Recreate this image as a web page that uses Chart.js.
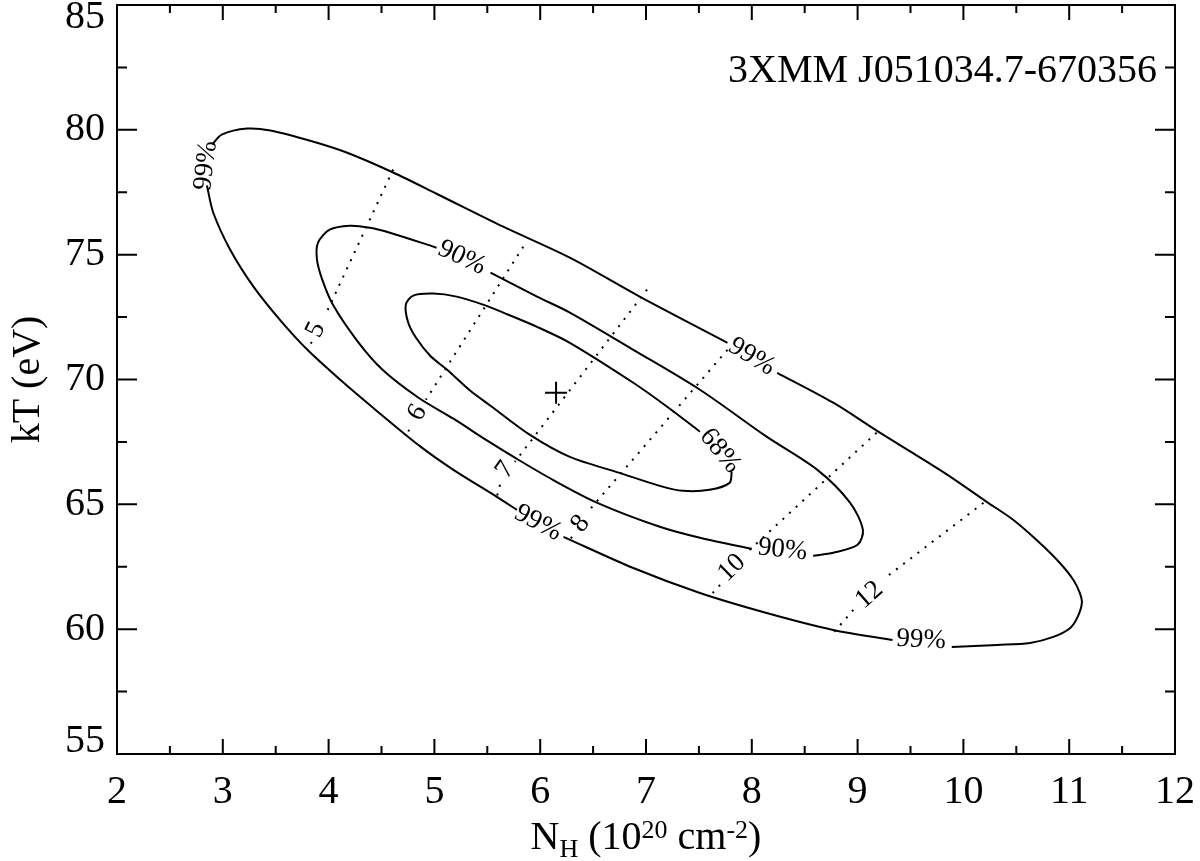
<!DOCTYPE html>
<html>
<head>
<meta charset="utf-8">
<script src="https://cdn.jsdelivr.net/npm/chart.js@4.4.1/dist/chart.umd.min.js"></script>
<style>
  html, body { margin: 0; padding: 0; background: #fff; }
  #wrap { width: 1200px; height: 861px; }
</style>
</head>
<body>
<div id="wrap"><canvas id="chart" width="1200" height="861"></canvas></div>
<script>
// Axis ticks
const xMajor = [2, 3, 4, 5, 6, 7, 8, 9, 10, 11, 12];
const xMinor = [2.5, 3.5, 4.5, 5.5, 6.5, 7.5, 8.5, 9.5, 10.5, 11.5];
const yMajor = [55, 60, 65, 70, 75, 80, 85];
const yMinor = [57.5, 62.5, 67.5, 72.5, 77.5, 82.5];

// Best fit (N_H, kT)
const bestFit = [[6.15, 69.47]];

// Confidence contours, split where the level labels sit
const c68 = [
  [[7.81, 66.30], [7.79, 65.86], [7.60, 65.58], [7.35, 65.54], [7.13, 65.74], [6.75, 66.26],
   [6.28, 66.90], [5.90, 67.79], [5.53, 68.95], [5.34, 69.55], [5.12, 70.39], [4.96, 70.95],
   [4.82, 71.71], [4.75, 72.31], [4.73, 73.00], [4.80, 73.36], [4.99, 73.44], [5.21, 73.32],
   [5.46, 73.00], [5.65, 72.68], [5.97, 72.11], [6.28, 71.47], [6.88, 69.87], [7.20, 68.91],
   [7.51, 67.91]]
];
const c90 = [
  [[5.53, 74.28], [5.97, 73.32], [6.28, 72.68], [6.88, 71.19], [7.51, 69.59], [8.14, 67.71],
   [8.62, 66.38], [8.93, 65.06], [9.05, 63.98], [9.00, 63.38], [8.77, 63.06], [8.58, 62.94]],
  [[8.00, 63.22], [7.51, 63.66], [7.13, 64.10], [6.54, 65.06], [6.12, 65.98], [5.78, 66.82],
   [5.50, 67.55], [5.18, 68.43], [4.85, 69.27], [4.51, 70.39], [4.27, 71.55], [4.04, 73.00],
   [3.94, 74.00], [3.89, 74.80], [3.90, 75.48], [4.01, 76.00], [4.20, 76.16], [4.39, 76.08],
   [4.58, 75.88], [5.02, 75.28]]
];
const c99 = [
  [[2.90, 79.41], [2.99, 79.81], [3.23, 80.05], [3.45, 79.97], [3.85, 79.53], [4.17, 79.09],
   [4.61, 78.29], [5.02, 77.44], [5.65, 76.12], [6.28, 74.88], [6.94, 73.32], [7.77, 71.47]],
  [[8.24, 70.27], [8.77, 69.07], [9.21, 67.87], [9.52, 67.06], [9.85, 66.18], [10.22, 65.10],
   [10.47, 64.38], [10.72, 63.46], [10.91, 62.66], [11.04, 61.97], [11.10, 61.45], [11.12, 61.05],
   [11.08, 60.49], [11.01, 60.05], [10.85, 59.69], [10.63, 59.45], [10.32, 59.37], [9.89, 59.29]],
  [[9.33, 59.57], [8.77, 59.97], [8.14, 60.65], [7.51, 61.45], [6.88, 62.45], [6.22, 63.70]],
  [[5.78, 64.78], [5.59, 65.30], [5.18, 66.38], [4.86, 67.34], [4.42, 68.87], [4.11, 69.99],
   [3.80, 71.19], [3.54, 72.39], [3.29, 73.72], [3.07, 75.20], [2.91, 76.68], [2.85, 77.77]]
];

// Dotted lines of constant value (5, 6, 7, 8, 10, 12)
const dotted = [
  [[4.61, 78.41], [3.98, 72.68]], [[3.84, 71.51], [3.81, 71.19]],
  [[5.84, 75.32], [4.92, 69.19]], [[4.76, 67.99], [4.74, 67.67]],
  [[7.01, 73.60], [5.76, 66.70]], [[5.62, 65.78], [5.59, 65.30]],
  [[7.77, 71.19], [6.45, 64.70]], [[6.30, 63.70], [6.26, 63.38]],
  [[9.18, 67.87], [7.95, 63.06]], [[7.70, 61.77], [7.63, 61.45]],
  [[10.19, 65.06], [9.26, 62.05]], [[8.96, 60.77], [8.77, 59.85]]
];

// Labels: text and anchor in data units
const levelLabels = [
  ['99%', 2.84, 78.57], ['90%', 5.26, 74.88], ['99%', 8.00, 70.91], ['68%', 7.70, 67.14],
  ['99%', 5.98, 64.26], ['90%', 8.29, 63.18], ['99%', 9.60, 59.57]
];
const levelAngles = [-83, 25, 31, 51, 28, 6, 3];
const dottedLabels = [
  ['5', 3.88, 71.99], ['6', 4.84, 68.67], ['7', 5.67, 66.38],
  ['8', 6.38, 64.22], ['10', 7.81, 62.45], ['12', 9.11, 61.37]
];
const dottedAngles = [-64, -59, -54, -51, -44, -41];

const sourceName = '3XMM J051034.7-670356';
const yTitle = 'kT (eV)';
const xTitleParts = [['N', 0], ['H', 1], [' (10', 0], ['20', 2], [' cm', 0], ['-2', 2], [')', 0]];

const FONT = '"Liberation Serif", "Times New Roman", serif';

const toPts = seg => seg.map(([x, y]) => ({ x, y }));
const datasets = [];
[c68, c90, c99].forEach(level => level.forEach(seg => datasets.push({
  data: toPts(seg), showLine: true, borderColor: '#000', borderWidth: 2,
  pointRadius: 0, tension: 0.3, fill: false
})));
dotted.forEach(seg => datasets.push({
  data: toPts(seg), showLine: true, borderColor: '#000', borderWidth: 2,
  borderDash: [2, 7], pointRadius: 0, tension: 0, fill: false
}));
datasets.push({
  data: toPts(bestFit), pointStyle: 'cross', pointRadius: 11,
  borderColor: '#000', borderWidth: 2, showLine: false
});

const decor = {
  id: 'decor',
  afterDatasetsDraw(chart) {
    const { ctx, chartArea: a, scales: { x, y } } = chart;
    ctx.save();
    ctx.strokeStyle = '#000';
    ctx.fillStyle = '#000';
    ctx.lineWidth = 2;
    ctx.strokeRect(a.left, a.top, a.right - a.left, a.bottom - a.top);

    // inward ticks on all four sides
    ctx.beginPath();
    const xt = (vals, len) => vals.forEach(v => {
      const px = x.getPixelForValue(v);
      ctx.moveTo(px, a.bottom); ctx.lineTo(px, a.bottom - len);
      ctx.moveTo(px, a.top); ctx.lineTo(px, a.top + len);
    });
    const yt = (vals, len) => vals.forEach(v => {
      const py = y.getPixelForValue(v);
      ctx.moveTo(a.left, py); ctx.lineTo(a.left + len, py);
      ctx.moveTo(a.right, py); ctx.lineTo(a.right - len, py);
    });
    xt(xMajor, 15); xt(xMinor, 8);
    yt(yMajor, 20); yt(yMinor, 10);
    ctx.stroke();

    // y tick labels, end ones kept inside the frame
    ctx.font = '40px ' + FONT;
    ctx.textAlign = 'right';
    ctx.textBaseline = 'middle';
    yMajor.forEach(v => {
      const py = Math.min(Math.max(y.getPixelForValue(v), a.top + 12.5), a.bottom - 13);
      ctx.fillText(String(v), a.left - 12, py);
    });

    // contour and dotted-line labels
    const drawRot = (list, angles, size) => list.forEach(([t, vx, vy], i) => {
      ctx.save();
      ctx.translate(x.getPixelForValue(vx), y.getPixelForValue(vy));
      ctx.rotate(angles[i] * Math.PI / 180);
      ctx.font = size + 'px ' + FONT;
      ctx.textAlign = 'center';
      ctx.textBaseline = 'middle';
      ctx.fillText(t, 0, 0);
      ctx.restore();
    });
    drawRot(levelLabels, levelAngles, 27);
    drawRot(dottedLabels, dottedAngles, 27);

    // source name
    ctx.font = '40px ' + FONT;
    ctx.textAlign = 'right';
    ctx.textBaseline = 'alphabetic';
    ctx.fillText(sourceName, a.right - 18, a.top + 77);

    // y title
    ctx.save();
    ctx.translate(39, (a.top + a.bottom) / 2);
    ctx.rotate(-Math.PI / 2);
    ctx.textAlign = 'center';
    ctx.fillText(yTitle, 0, 0);
    ctx.restore();

    // x title with sub/superscripts
    const fonts = ['40px ' + FONT, '26px ' + FONT, '26px ' + FONT];
    const shift = [0, 8, -11];
    let total = 0;
    xTitleParts.forEach(([t, k]) => { ctx.font = fonts[k]; total += ctx.measureText(t).width; });
    let cx = (a.left + a.right) / 2 - total / 2;
    const base = 849;
    ctx.textAlign = 'left';
    xTitleParts.forEach(([t, k]) => {
      ctx.font = fonts[k];
      ctx.fillText(t, cx, base + shift[k]);
      cx += ctx.measureText(t).width;
    });
    ctx.restore();
  }
};

const noPad = s => { s.paddingTop = 0; s.paddingBottom = 0; s.paddingLeft = 0; s.paddingRight = 0; };

new Chart(document.getElementById('chart'), {
  type: 'scatter',
  data: { datasets },
  options: {
    responsive: false,
    animation: false,
    devicePixelRatio: 1,
    layout: { autoPadding: false, padding: { left: 0, right: 25, top: 5, bottom: 0 } },
    plugins: { legend: { display: false }, tooltip: { enabled: false } },
    scales: {
      x: {
        type: 'linear', min: 2, max: 12,
        grid: { display: false, drawTicks: false },
        border: { display: false },
        ticks: { stepSize: 1, autoSkip: false, maxRotation: 0, padding: 14, color: '#000',
                 font: { family: FONT, size: 40 } },
        afterFit: s => { s.height = 107; noPad(s); }
      },
      y: {
        type: 'linear', min: 55, max: 85,
        grid: { display: false, drawTicks: false },
        border: { display: false },
        ticks: { display: false, stepSize: 5 },
        afterFit: s => { s.width = 117; noPad(s); }
      }
    }
  },
  plugins: [decor]
});
</script>
</body>
</html>
